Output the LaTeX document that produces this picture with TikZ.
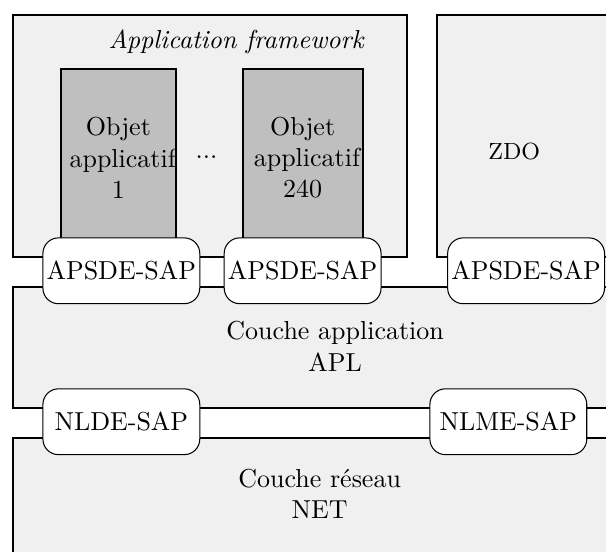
\documentclass[tikz,border=0pt]{standalone}
\usepackage{tikz}
\usetikzlibrary{positioning}

\tikzset{
  layer/.style={draw, thick, fill=black!6, anchor=north west, inner sep=0pt},
  objbox/.style={draw, thick, fill=lightgray, text width=1.32cm, align=center, minimum height=2.4cm, anchor=north},
  sap/.style={draw, fill=white, rounded corners=6pt, minimum width=2.12cm, minimum height=0.89cm, inner xsep=1pt}
}

\begin{document}
\begin{tikzpicture}
  \useasboundingbox (0,0) rectangle (8.19,-7.46);
  \clip (0,0) rectangle (8.19,-7.46);
  % Layers
  \node[layer, minimum width=5.33cm, minimum height=3.27cm] (AF) at (0.16,-0.19) {};
  \node[layer, minimum width=3cm, minimum height=3.27cm] (ZDO) at (5.89,-0.19) {};
  \node[layer, minimum width=8.5cm, minimum height=1.64cm] (APL) at (0.16,-3.86) {};
  \node[layer, minimum width=8.5cm, minimum height=2cm] (NET) at (0.16,-5.91) {};
  % Texts
  \node[font=\itshape] (AFtxt) at (3.19,-0.57) {Application framework};
  \node[font=\small] (ZDOtxt) at (6.95,-2.05) {ZDO};
  \node[align=center] (APLtxt) at (4.53,-4.68) {Couche application\\APL};
  \node[align=center] (NETtxt) at (4.32,-6.67) {Couche r\'eseau\\NET};
  % Objets
  \node[objbox, minimum width=1.56cm] (O1) at (1.6,-0.92) {Objet\\applicatif\\1};
  \node[objbox, minimum width=1.62cm] (O240) at (4.09,-0.92) {Objet\\applicatif\\240};
  \node (dots) at (2.79,-2.12) {...};
  % SAPs
  \node[sap] (APS1) at (1.64,-3.66) {APSDE-SAP};
  \node[sap] (APS2) at (4.09,-3.66) {APSDE-SAP};
  \node[sap] (APS3) at (7.11,-3.66) {APSDE-SAP};
  \node[sap] (NLDE) at (APS1 |- 0,-5.70) {NLDE-SAP};
  \node[sap] (NLME) at (6.87,-5.70) {NLME-SAP};
\end{tikzpicture}
\end{document}
